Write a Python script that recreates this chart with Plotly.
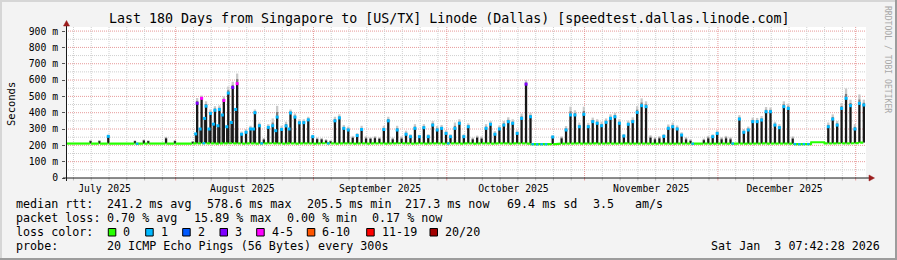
import plotly.graph_objects as go
from datetime import datetime, timedelta

# ---------------- data ----------------
END = datetime(2026, 1, 3, 7, 42, 28)
START = END - timedelta(days=180)
DAY0 = datetime(2025, 7, 7)          # first calendar day in the window
SPIKE_HOUR = 20                       # daily peak time (UTC) of the evening spikes
EARLY_HOUR = 12                       # time of the shorter companion bars

# daily evening peak of the median rtt (ms); 0 = no spike that day
peak_ms = [
    0, 0, 0, 0, 0, 226, 0, 226, 0, 255,
    0, 0, 0, 0, 0, 226, 0, 230, 226, 0,
    0, 0, 243, 0, 226, 0, 0, 0, 222, 458,
    488, 440, 395, 415, 420, 475, 520, 555, 578, 268,
    280, 300, 400, 320, 235, 310, 320, 373, 297, 319,
    398, 373, 338, 339, 356, 253, 238, 237, 230, 225,
    350, 368, 304, 294, 245, 260, 297, 242, 240, 244,
    240, 297, 350, 237, 294, 241, 268, 253, 304, 253,
    308, 253, 324, 294, 304, 273, 253, 304, 335, 253,
    314, 237, 247, 241, 304, 329, 268, 300, 324, 345,
    335, 273, 365, 575, 375, 0, 0, 0, 0, 251,
    0, 243, 294, 386, 386, 314, 390, 314, 345, 335,
    320, 341, 365, 375, 335, 257, 329, 345, 402, 443,
    437, 247, 237, 243, 255, 304, 314, 300, 263, 237,
    227, 0, 0, 232, 243, 253, 273, 237, 243, 237,
    0, 361, 280, 294, 345, 345, 355, 406, 406, 324,
    308, 437, 426, 241, 0, 0, 0, 0, 0, 0,
    0, 314, 361, 324, 426, 488, 443, 300, 457, 447,
]

# top of the grey smoke (highest pings) on spike days (ms)
smoke_ms = [
    0, 0, 0, 0, 0, 232, 0, 232, 0, 265,
    0, 0, 0, 0, 0, 230, 0, 236, 230, 0,
    0, 0, 252, 0, 232, 0, 0, 0, 226, 490,
    505, 470, 420, 440, 445, 500, 560, 590, 640, 285,
    300, 320, 420, 340, 245, 330, 365, 442, 320, 345,
    420, 395, 360, 360, 375, 265, 248, 245, 238, 232,
    375, 390, 325, 315, 258, 275, 320, 255, 250, 256,
    250, 320, 375, 248, 320, 255, 290, 268, 330, 265,
    330, 268, 350, 318, 325, 292, 268, 340, 360, 268,
    335, 248, 260, 255, 330, 350, 288, 322, 350, 372,
    360, 292, 395, 600, 400, 0, 0, 0, 0, 262,
    0, 255, 318, 437, 415, 340, 437, 338, 370, 360,
    345, 365, 390, 400, 360, 270, 352, 372, 440, 488,
    470, 262, 250, 256, 270, 328, 340, 322, 280, 250,
    238, 0, 0, 242, 258, 268, 292, 250, 258, 250,
    0, 385, 300, 315, 370, 368, 380, 435, 432, 345,
    330, 470, 455, 255, 0, 0, 0, 0, 0, 0,
    0, 340, 390, 350, 460, 549, 480, 330, 512, 480,
]

# shorter companion bars seen in the August cluster (day index -> ms)
early_day = [29, 30, 31, 32, 33, 34, 35, 36, 37, 38, 42, 47, 50]
early_ms = [270, 300, 365, 300, 330, 320, 386, 314, 340, 420, 300, 290, 300]

# off-peak median rtt per day (ms)
base_ms = [
    211, 210, 211, 211, 210, 211, 211, 210, 211, 211,
    210, 211, 211, 210, 211, 211, 210, 210, 211, 211,
    211, 210, 211, 211, 210, 211, 211, 211, 210, 212,
    212, 213, 212, 212, 211, 212, 212, 213, 212, 212,
    211, 212, 212, 211, 212, 212, 213, 212, 212, 211,
    212, 212, 211, 212, 212, 212, 211, 212, 213, 212,
    212, 211, 212, 212, 212, 211, 212, 212, 211, 212,
    212, 212, 211, 212, 212, 213, 212, 212, 211, 212,
    212, 211, 212, 212, 212, 211, 212, 212, 212, 211,
    212, 212, 211, 212, 212, 212, 211, 212, 212, 212,
    211, 212, 212, 212, 211, 207, 206, 207, 207, 208,
    207, 210, 211, 211, 211, 212, 211, 211, 211, 212,
    211, 211, 212, 211, 211, 211, 212, 211, 211, 211,
    211, 211, 210, 211, 211, 211, 210, 211, 211, 211,
    211, 210, 211, 211, 211, 210, 211, 211, 211, 210,
    211, 211, 211, 210, 211, 211, 211, 212, 211, 211,
    211, 211, 211, 210, 208, 207, 208, 208, 219, 220,
    219, 212, 212, 212, 213, 212, 212, 213, 214, 217,
]

# packet loss (of 20) on the off-peak median, per day
base_loss = [0] * 180
for k in (16, 31, 44, 59, 86, 105, 106, 107, 108, 141, 150, 164, 165, 166, 167):
    base_loss[k] = 1

# packet loss (of 20) at the spike tops; spikes above 250 ms default to 1
top_loss_special = {29: 3, 30: 5, 35: 5, 37: 3, 38: 5, 103: 3}

y_tick_vals = [0, 100, 200, 300, 400, 500, 600, 700, 800, 900]
y_tick_text = ["0", "100 m", "200 m", "300 m", "400 m", "500 m",
               "600 m", "700 m", "800 m", "900 m"]
month_label_dates = ["2025-07-16", "2025-08-16", "2025-09-16",
                     "2025-10-16", "2025-11-16", "2025-12-16"]
month_labels = ["July 2025", "August 2025", "September 2025",
                "October 2025", "November 2025", "December 2025"]

loss_names = ["0", "1", "2", "3", "4-5", "6-10", "11-19", "20/20"]
loss_colors = ["#26ff00", "#00b8ff", "#0059ff", "#7e00ff",
               "#ff00ff", "#ff5500", "#ff0000", "#a10000"]

TITLE = "Last 180 Days from Singapore to [US/TX] Linode (Dallas) [speedtest.dallas.linode.com]"
legend_rows = [
    [(16, "median rtt:"), (107.3, "241.2 ms avg"), (207.3, "578.6 ms max"),
     (306.7, "205.5 ms min"), (405, "217.3 ms now"), (506.7, "69.4 ms sd"),
     (592.7, "3.5"), (635, "am/s")],
    [(16, "packet loss:"), (107.3, "0.70 % avg"), (193.5, "15.89 % max"),
     (286.7, "0.00 % min"), (372.3, "0.17 % now")],
    [(16, "loss color:")],
    [(16, "probe:"), (107.3, "20 ICMP Echo Pings (56 Bytes) every 300s")],
]
legend_row_y = [204.3, 218.3, 232.3, 246.0]
loss_box_x = [108.3, 145.7, 182.7, 220, 256.7, 307.3, 366.7, 430]
loss_label_x = [123.3, 161, 198.3, 235, 271.7, 322.3, 381.7, 445]
STAMP = "Sat Jan\u00a0\u00a03 07:42:28 2026"

# ---------------- geometry (pixels of the 897x260 image) ----------------
W, H = 897, 260
L, R, T, B = 66, 866, 27, 178
FONT = "DejaVu Sans Mono"


def fx(px):
    return (px - L) / (R - L)


def fy(py):
    return (B - py) / (B - T)


def loss_index(n):
    if n <= 3:
        return n
    if n <= 5:
        return 4
    if n <= 10:
        return 5
    if n <= 19:
        return 6
    return 7


days = [DAY0 + timedelta(days=k) for k in range(180)]

# ---------------- traces ----------------
fig = go.Figure()

sx, sy_mid, sx_l, sy_light, bx, by = [], [], [], [], [], []
for k, d in enumerate(days):
    p = peak_ms[k]
    if p <= 0:
        continue
    t = d + timedelta(hours=SPIKE_HOUR)
    s = smoke_ms[k]
    mid = p + (s - p) * 0.45
    sx_l += [t, t, None]
    sy_light += [mid, s, None]
    sx += [t, t, None]
    sy_mid += [p, mid, None]
    bx += [t, t, None]
    by += [base_ms[k], p, None]
ex, ey = [], []
for k, v in zip(early_day, early_ms):
    t = days[k] + timedelta(hours=EARLY_HOUR)
    ex += [t, t, None]
    ey += [base_ms[k], v, None]

SW = 2.3
fig.add_trace(go.Scatter(x=sx_l, y=sy_light, mode="lines",
                         line=dict(color="#c9c9c9", width=SW), hoverinfo="skip"))
fig.add_trace(go.Scatter(x=sx, y=sy_mid, mode="lines",
                         line=dict(color="#7d7d7d", width=SW), hoverinfo="skip"))
fig.add_trace(go.Scatter(x=ex, y=ey, mode="lines",
                         line=dict(color="#2a2a2a", width=1.6), hoverinfo="skip"))
fig.add_trace(go.Scatter(x=bx, y=by, mode="lines",
                         line=dict(color="#181818", width=SW), hoverinfo="skip"))

# median line, green where no loss
gx, gy = [], []
for k, d in enumerate(days):
    for h in (0, 6, 11):
        gx.append(d + timedelta(hours=h))
        gy.append(base_ms[k])
    gx.append(d + timedelta(hours=17))
    gy.append(base_ms[k])
    if peak_ms[k] > 0:
        gx.append(None)
        gy.append(None)
    gx.append(d + timedelta(hours=22))
    gy.append(base_ms[k])
fig.add_trace(go.Scatter(x=gx, y=gy, mode="lines",
                         line=dict(color=loss_colors[0], width=2.2), hoverinfo="skip"))

# median line segments with loss 1 on the baseline
cx, cy = [], []
for k, d in enumerate(days):
    if base_loss[k] > 0:
        cx += [d + timedelta(hours=1), d + timedelta(hours=15), None]
        cy += [base_ms[k], base_ms[k], None]
fig.add_trace(go.Scatter(x=cx, y=cy, mode="lines",
                         line=dict(color=loss_colors[1], width=2.2), hoverinfo="skip"))

# coloured median dots on the spike tops
groups = {}
for k, d in enumerate(days):
    p = peak_ms[k]
    if p < 250:
        continue
    li = loss_index(top_loss_special.get(k, 1))
    groups.setdefault(li, ([], []))
    groups[li][0].append(d + timedelta(hours=SPIKE_HOUR))
    groups[li][1].append(p)
for k, v in zip(early_day, early_ms):
    groups.setdefault(1, ([], []))
    groups[1][0].append(days[k] + timedelta(hours=EARLY_HOUR))
    groups[1][1].append(v)
for li, (xs, ys) in groups.items():
    fig.add_trace(go.Scatter(x=xs, y=ys, mode="markers",
                             marker=dict(symbol="square", size=3, color=loss_colors[li],
                                         line=dict(width=0)),
                             hoverinfo="skip"))

# ---------------- grid, axes, frame ----------------
shapes = []
DOT = "1px,1px"
# horizontal grid
for v in range(50, 925, 50):
    major = v % 100 == 0
    shapes.append(dict(type="line", xref="paper", yref="y", x0=0, x1=1, y0=v, y1=v,
                       line=dict(color="#e79a9a" if major else "#cfcfcf", width=1, dash=DOT),
                       layer="below"))
# vertical grid: month starts (major) and every 4th day of month (minor)
d = DAY0
while d <= END:
    if d >= START and d.day in (1, 5, 9, 13, 17, 21, 25, 29):
        major = d.day == 1
        shapes.append(dict(type="line", xref="x", yref="paper", x0=d, x1=d,
                           y0=0, y1=1,
                           line=dict(color="#e79a9a" if major else "#cfcfcf", width=1, dash=DOT),
                           layer="below"))
        shapes.append(dict(type="line", xref="x", yref="paper", x0=d, x1=d,
                           y0=fy(B + 2.5), y1=fy(B),
                           line=dict(color="#e79a9a" if major else "#bdbdbd", width=1)))
    d += timedelta(days=1)

AX = "#1a1a1a"
ARROW = "#9b1c1c"
shapes.append(dict(type="line", xref="paper", yref="paper",
                   x0=fx(L - 3), x1=fx(870), y0=fy(B), y1=fy(B), line=dict(color=AX, width=1)))
shapes.append(dict(type="line", xref="paper", yref="paper",
                   x0=fx(L + 0.5), x1=fx(L + 0.5), y0=fy(B + 3), y1=fy(24), line=dict(color=AX, width=1)))
shapes.append(dict(type="path", xref="paper", yref="paper",
                   path=f"M {fx(L+0.5)},{fy(20.5)} L {fx(L-2.5)},{fy(26)} L {fx(L+3.5)},{fy(26)} Z",
                   fillcolor=ARROW, line=dict(color=ARROW, width=0.5)))
shapes.append(dict(type="path", xref="paper", yref="paper",
                   path=f"M {fx(874.5)},{fy(B)} L {fx(869)},{fy(B-3)} L {fx(869)},{fy(B+3)} Z",
                   fillcolor=ARROW, line=dict(color=ARROW, width=0.5)))

# image frame (rrdtool shade)
shapes.append(dict(type="rect", xref="paper", yref="paper", x0=fx(0), x1=fx(W), y0=fy(0), y1=fy(2),
                   fillcolor="#d6d6d6", line=dict(width=0), layer="below"))
shapes.append(dict(type="rect", xref="paper", yref="paper", x0=fx(0), x1=fx(2), y0=fy(0), y1=fy(H),
                   fillcolor="#d6d6d6", line=dict(width=0), layer="below"))
shapes.append(dict(type="rect", xref="paper", yref="paper", x0=fx(0), x1=fx(W), y0=fy(H - 2), y1=fy(H),
                   fillcolor="#9c9c9c", line=dict(width=0)))
shapes.append(dict(type="rect", xref="paper", yref="paper", x0=fx(W - 2), x1=fx(W), y0=fy(0), y1=fy(H),
                   fillcolor="#9c9c9c", line=dict(width=0)))

# legend colour boxes
for bxp, col in zip(loss_box_x, loss_colors):
    shapes.append(dict(type="rect", xref="paper", yref="paper",
                       x0=fx(bxp), x1=fx(bxp + 7.5), y0=fy(236), y1=fy(228.5),
                       fillcolor=col, line=dict(color="#000000", width=1)))

# ---------------- texts ----------------
ann = []


def text(px, py, s, size=11.7, anchor="left", color="#000000", angle=0):
    ann.append(dict(xref="paper", yref="paper", x=fx(px), y=fy(py), text=s,
                    showarrow=False, xanchor=anchor, yanchor="middle", textangle=angle,
                    font=dict(family=FONT, size=size, color=color), borderpad=0))


text(448.5, 18.5, TITLE, size=13.3, anchor="center")
for row, py in zip(legend_rows, legend_row_y):
    for px, s in row:
        text(px - 1, py, s)
for lx, name in zip(loss_label_x, loss_names):
    text(lx - 1, legend_row_y[2], name)
text(881, legend_row_y[3], STAMP, anchor="right")
text(11, 104, "Seconds", size=10.5, anchor="center", angle=-90)
text(888, 59, "RRDTOOL / TOBI OETIKER", size=8.1, anchor="center", color="#a8a8a8", angle=90)

fig.update_layout(
    width=W, height=H, autosize=False,
    margin=dict(l=L, r=W - R, t=T, b=H - B, pad=0),
    paper_bgcolor="#f3f3f3", plot_bgcolor="#ffffff",
    showlegend=False, shapes=shapes, annotations=ann,
    xaxis=dict(type="date", range=[START, END], tickmode="array",
               tickvals=month_label_dates, ticktext=month_labels, ticks="",
               showgrid=False, zeroline=False, showline=False, fixedrange=True,
               tickfont=dict(family=FONT, size=9.75, color="#000000"),
               ticklabelstandoff=3),
    yaxis=dict(range=[0, 925], tickmode="array", tickvals=y_tick_vals, ticktext=y_tick_text,
               ticks="outside", ticklen=3, tickcolor="#555555", tickwidth=1,
               showgrid=False, zeroline=False, showline=False, fixedrange=True,
               tickfont=dict(family=FONT, size=9.75, color="#000000"),
               ticklabelstandoff=2),
)

fig.write_html("out.html", config={"displayModeBar": False})
